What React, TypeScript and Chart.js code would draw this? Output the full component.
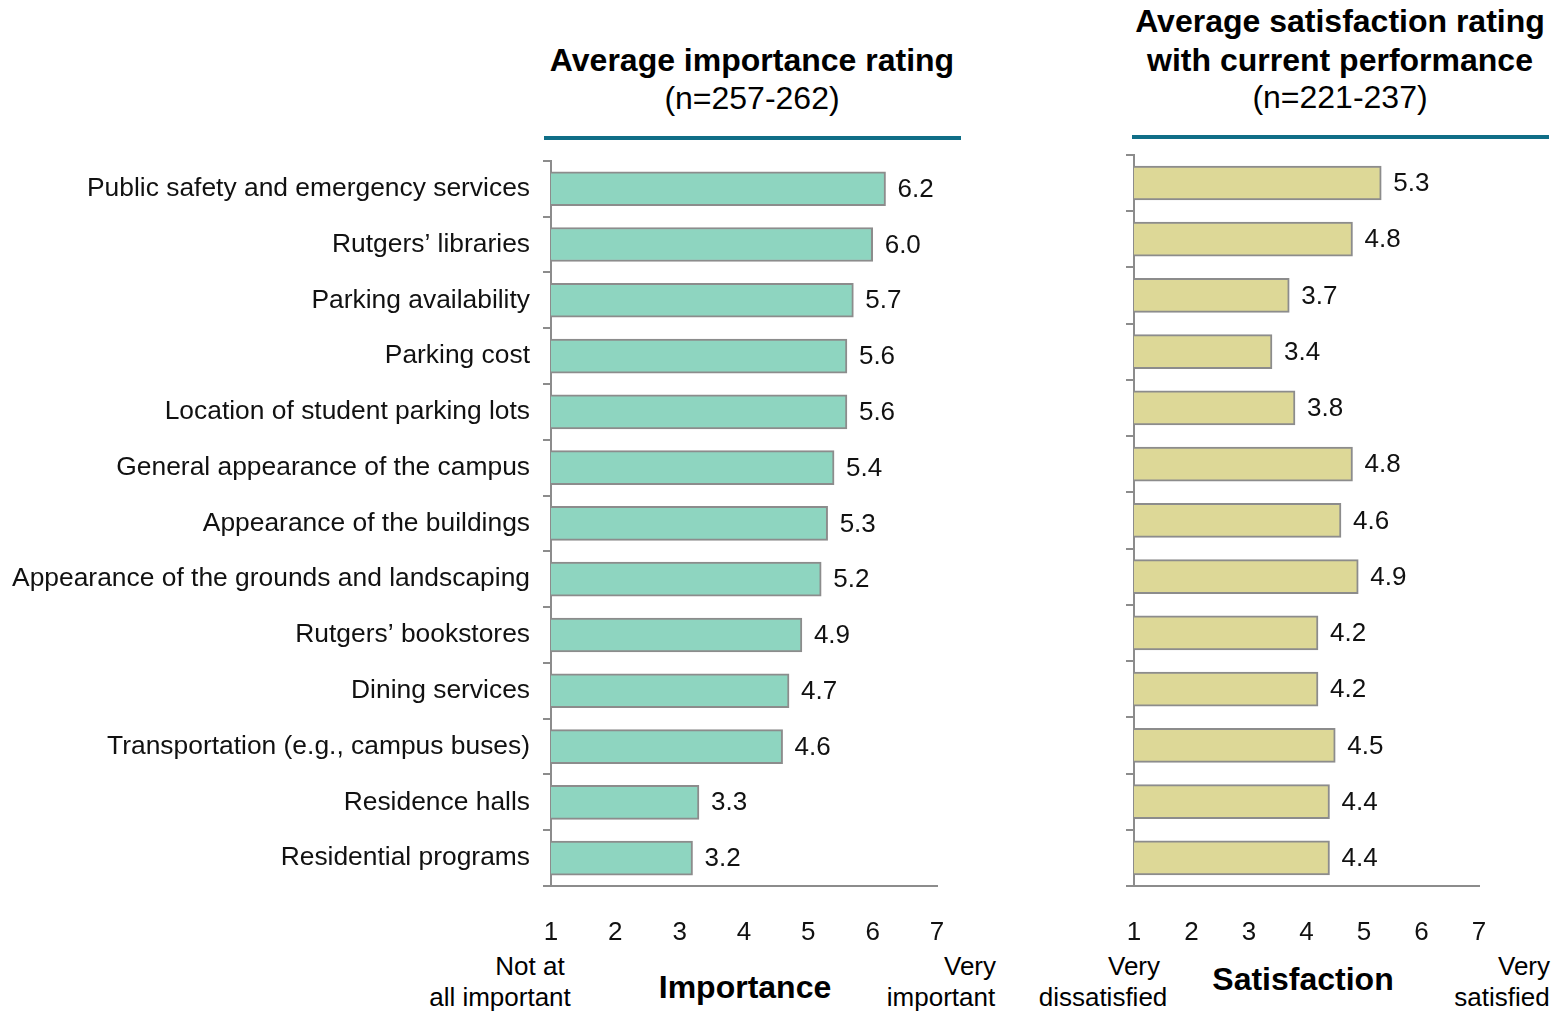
import React, { useEffect, useRef } from "react";
import { Chart, registerables } from "chart.js";

Chart.register(...registerables);

const categories = [
  "Public safety and emergency services",
  "Rutgers\u2019 libraries",
  "Parking availability",
  "Parking cost",
  "Location of student parking lots",
  "General appearance of the campus",
  "Appearance of the buildings",
  "Appearance of the grounds and landscaping",
  "Rutgers\u2019 bookstores",
  "Dining services",
  "Transportation (e.g., campus buses)",
  "Residence halls",
  "Residential programs",
];
const importance = [6.2, 6.0, 5.7, 5.6, 5.6, 5.4, 5.3, 5.2, 4.9, 4.7, 4.6, 3.3, 3.2];
const satisfaction = [5.3, 4.8, 3.7, 3.4, 3.8, 4.8, 4.6, 4.9, 4.2, 4.2, 4.5, 4.4, 4.4];
const scaleTicks = [1, 2, 3, 4, 5, 6, 7];

const FONT = "'Liberation Sans', Arial, Helvetica, sans-serif";
const AXIS_GRAY = "#8c8c8c";

const valueLabelPlugin = {
  id: "valueLabels",
  afterDatasetsDraw(chart: any) {
    const ctx = chart.ctx;
    const meta = chart.getDatasetMeta(0);
    const data = chart.data.datasets[0].data as number[];
    ctx.save();
    ctx.font = `26px ${FONT}`;
    ctx.fillStyle = "#111";
    ctx.textAlign = "left";
    ctx.textBaseline = "middle";
    meta.data.forEach((bar: any, i: number) => {
      ctx.fillText(data[i].toFixed(1), bar.x + 12, bar.y + 1);
    });
    ctx.restore();
  },
};

function makeConfig(
  values: number[],
  fill: string,
  showLabels: boolean,
  yWidth: number,
  padRight: number,
  padTop: number
): any {
  return {
    type: "bar",
    data: {
      labels: categories,
      datasets: [
        {
          data: values,
          backgroundColor: fill,
          borderColor: AXIS_GRAY,
          borderWidth: 2,
          borderSkipped: false,
          barThickness: 34,
        },
      ],
    },
    options: {
      indexAxis: "y",
      responsive: false,
      animation: false,
      layout: { padding: { top: padTop, right: padRight, left: 0, bottom: 0 } },
      plugins: { legend: { display: false }, tooltip: { enabled: false } },
      scales: {
        x: {
          type: "linear",
          min: 1,
          max: 7,
          afterBuildTicks(scale: any) {
            scale.ticks = scaleTicks.map((v) => ({ value: v }));
          },
          ticks: {
            stepSize: 1,
            padding: 31,
            color: "#111",
            font: { family: FONT, size: 26 },
          },
          grid: { display: true, drawOnChartArea: false, drawTicks: false },
          border: { display: true, color: AXIS_GRAY, width: 2 },
          afterFit(scale: any) {
            scale.height = 60;
          },
        },
        y: {
          type: "category",
          grid: {
            display: true,
            drawOnChartArea: false,
            drawTicks: true,
            tickLength: 8,
            offset: true,
            color: AXIS_GRAY,
            lineWidth: 2,
          },
          border: { display: true, color: AXIS_GRAY, width: 2 },
          ticks: {
            display: true,
            padding: 13,
            color: "#111",
            font: { family: FONT, size: 26.4 },
            callback(this: any, v: any) {
              return showLabels ? this.getLabelForValue(v) : "";
            },
          },
          afterFit(scale: any) {
            scale.width = yWidth;
          },
        },
      },
    },
    plugins: [valueLabelPlugin],
  };
}

function BarChart(props: {
  values: number[];
  fill: string;
  showLabels: boolean;
  left: number;
  top: number;
  width: number;
  height: number;
  yWidth: number;
  padRight: number;
  padTop: number;
}) {
  const ref = useRef<HTMLCanvasElement | null>(null);
  useEffect(() => {
    if (!ref.current) return;
    const chart = new Chart(
      ref.current,
      makeConfig(props.values, props.fill, props.showLabels, props.yWidth, props.padRight, props.padTop)
    );
    return () => chart.destroy();
  }, []);
  return (
    <canvas
      ref={ref}
      width={props.width}
      height={props.height}
      style={{
        position: "absolute",
        left: props.left,
        top: props.top,
        width: props.width,
        height: props.height,
      }}
    />
  );
}

function Txt(props: { x: number; y: number; text: string; size: number; bold?: boolean }) {
  return (
    <div
      style={{
        position: "absolute",
        left: props.x,
        top: props.y,
        transform: "translate(-50%, -50%)",
        whiteSpace: "nowrap",
        fontFamily: FONT,
        fontSize: props.size,
        fontWeight: props.bold ? "bold" : "normal",
        lineHeight: 1.15,
        color: "#000",
      }}
    >
      {props.text}
    </div>
  );
}

export default function App() {
  return (
    <div
      style={{
        position: "absolute",
        left: 0,
        top: 0,
        width: 1561,
        height: 1012,
        background: "#fff",
        overflow: "hidden",
      }}
    >
      <Txt x={752} y={60} text="Average importance rating" size={32} bold />
      <Txt x={752} y={98} text="(n=257-262)" size={32} />
      <div style={{ position: "absolute", left: 544, top: 136, width: 417, height: 4, background: "#0f6e87" }} />

      <Txt x={1340} y={21} text="Average satisfaction rating" size={32} bold />
      <Txt x={1340} y={60} text="with current performance" size={32} bold />
      <Txt x={1340} y={97} text="(n=221-237)" size={32} />
      <div style={{ position: "absolute", left: 1132, top: 135, width: 417, height: 4, background: "#0f6e87" }} />

      <BarChart
        values={importance}
        fill="#8ed5c0"
        showLabels={true}
        left={0}
        top={132}
        width={1000}
        height={814}
        yWidth={551}
        padRight={63}
        padTop={12}
      />
      <BarChart
        values={satisfaction}
        fill="#ddd897"
        showLabels={false}
        left={1040}
        top={126}
        width={521}
        height={820}
        yWidth={94}
        padRight={82}
        padTop={12}
      />

      <Txt x={530} y={967} text="Not at" size={26} />
      <Txt x={500} y={998} text="all important" size={26} />
      <Txt x={745} y={987} text="Importance" size={32} bold />
      <Txt x={970} y={967} text="Very" size={26} />
      <Txt x={941} y={998} text="important" size={26} />

      <Txt x={1134} y={967} text="Very" size={26} />
      <Txt x={1103} y={998} text="dissatisfied" size={26} />
      <Txt x={1303} y={979} text="Satisfaction" size={32} bold />
      <Txt x={1524} y={967} text="Very" size={26} />
      <Txt x={1502} y={998} text="satisfied" size={26} />
    </div>
  );
}
